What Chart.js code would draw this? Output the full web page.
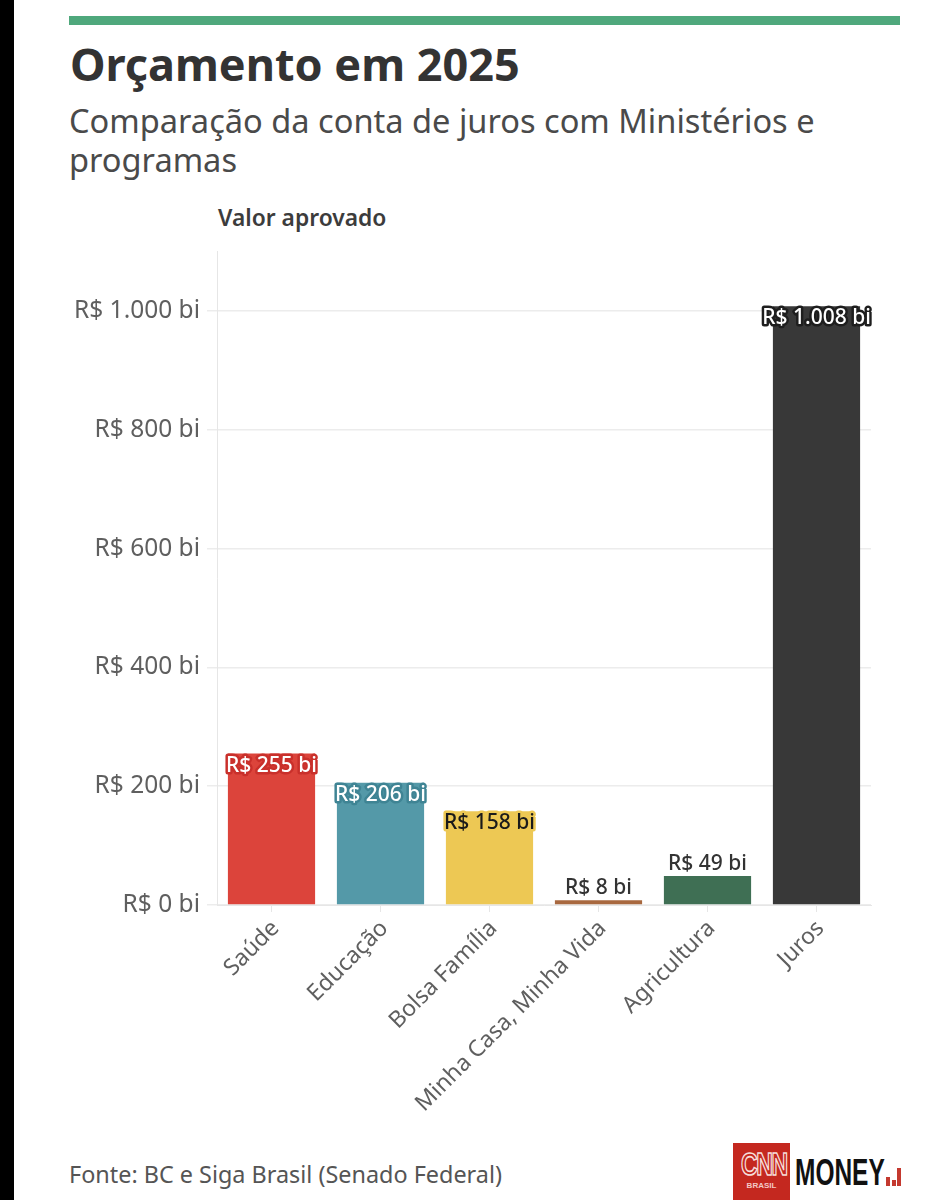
<!DOCTYPE html>
<html lang="pt-BR"><head><meta charset="utf-8">
<script src="https://cdn.jsdelivr.net/npm/chart.js@4"></script>
<style>
html,body{margin:0;padding:0;background:#fff;width:927px;height:1200px;overflow:hidden;font-family:"Noto Sans",sans-serif}
.a{position:absolute;white-space:nowrap}
#chartWrap{position:absolute;left:60px;top:230px;width:830px;height:911px}
</style></head><body>
<div class="a" style="left:0;top:0;width:14px;height:1200px;background:#000"></div>
<div class="a" style="left:69px;top:16px;width:831px;height:9px;background:#4fa87c"></div>
<div class="a" style="left:70px;top:36px;font-size:45px;line-height:56px;font-weight:700;color:#333">Orçamento em 2025</div>
<div class="a" style="left:69px;top:101px;font-size:32.6px;line-height:39px;color:#4a4a4a">Comparação da conta de juros com Ministérios e<br>programas</div>
<div class="a" style="left:218px;top:204px;font-size:22.8px;line-height:28px;font-weight:600;color:#3c3c3c">Valor aprovado</div>
<div id="chartWrap"><canvas id="c"></canvas></div>
<div class="a" style="left:69px;top:1160px;font-size:23.4px;line-height:28px;color:#555">Fonte: BC e Siga Brasil (Senado Federal)</div>
<div class="a" style="left:733px;top:1143px;width:57px;height:57px;background:#c4281f"></div>
<div class="a" style="left:733px;top:1146px;width:57px;text-align:center;font:700 32px/36px 'Liberation Sans';letter-spacing:-2px;color:#c4281f;-webkit-text-stroke:1.6px #f6dedb;transform:scaleX(.72)">CNN</div>
<div class="a" style="left:733px;top:1181px;width:57px;text-align:center;font:700 8px/10px 'Liberation Sans';color:#f3c9c5">BRASIL</div>
<div class="a" style="left:795px;top:1155px;font:700 36px/36px 'Liberation Sans';color:#111;transform:scaleX(.68);transform-origin:left">MONEY</div>
<div class="a" style="left:886px;top:1177px;width:4px;height:9px;background:#c4392f"></div>
<div class="a" style="left:892px;top:1180px;width:4px;height:6px;background:#c4392f"></div>
<div class="a" style="left:897px;top:1168px;width:4px;height:18px;background:#c4392f"></div>
<script>
const categories = ["Saúde","Educação","Bolsa Família","Minha Casa, Minha Vida","Agricultura","Juros"];
const values = [255,206,158,8,49,1008];
const valueLabels = ["R$ 255 bi","R$ 206 bi","R$ 158 bi","R$ 8 bi","R$ 49 bi","R$ 1.008 bi"];
const barColors = ["#dc443b","#5499a8","#edc854","#a8683f","#3f6f54","#383838"];
const labelColors = ["#ffffff","#ffffff","#1a1a1a","#333333","#333333","#ffffff"];
const haloColors = ["#c9302b","#3f8494","#edc854","#ffffff","#ffffff","#1e1e1e"];
const labelFont = "500 21px 'Noto Sans'";
const valueLabelPlugin = {
  id:"valueLabels",
  afterDatasetsDraw(chart){
    const ctx=chart.ctx, bars=chart.getDatasetMeta(0).data;
    ctx.save();
    ctx.font=labelFont; ctx.textAlign="center"; ctx.textBaseline="middle"; ctx.lineJoin="round";
    bars.forEach((b,i)=>{
      const inside=values[i]>100;
      const y=inside ? b.y+12 : b.y-12;
      ctx.lineWidth=5; ctx.strokeStyle=haloColors[i];
      ctx.strokeText(valueLabels[i],b.x,y);
      ctx.fillStyle=labelColors[i];
      ctx.fillText(valueLabels[i],b.x,y);
    });
    ctx.restore();
  }
};
new Chart(document.getElementById("c"),{
  type:"bar",
  data:{labels:categories,datasets:[{data:values,backgroundColor:barColors,barPercentage:.8,categoryPercentage:1}]},
  plugins:[valueLabelPlugin],
  options:{
    responsive:true,maintainAspectRatio:false,animation:false,
    layout:{padding:{top:0,right:19,bottom:0,left:0}},
    plugins:{legend:{display:false},tooltip:{enabled:false},title:{display:false}},
    scales:{
      x:{
        afterFit(s){s.height=236},
        grid:{offset:false,drawOnChartArea:false,color:"#e6e6e6",tickLength:7,lineWidth:1},
        border:{color:"#e6e6e6"},
        ticks:{maxRotation:45,minRotation:45,autoSkip:false,padding:3,labelOffset:4,color:"#5f5f5f",font:{family:"Noto Sans",size:23}}
      },
      y:{
        min:0,max:1100,
        afterFit(s){s.width=157},
        grid:{color:c=>c.tick.value>1000?"rgba(0,0,0,0)":"#ececec",tickLength:10,lineWidth:1.5},
        border:{color:"#e6e6e6"},
        ticks:{stepSize:200,padding:7,color:"#5f5f5f",font:{family:"Noto Sans",size:24.5},
          callback:v=>v>1000?"":"R$ "+(v>=1000?v.toLocaleString("pt-BR"):v)+" bi"}
      }
    }
  }
});
</script>
</body></html>
